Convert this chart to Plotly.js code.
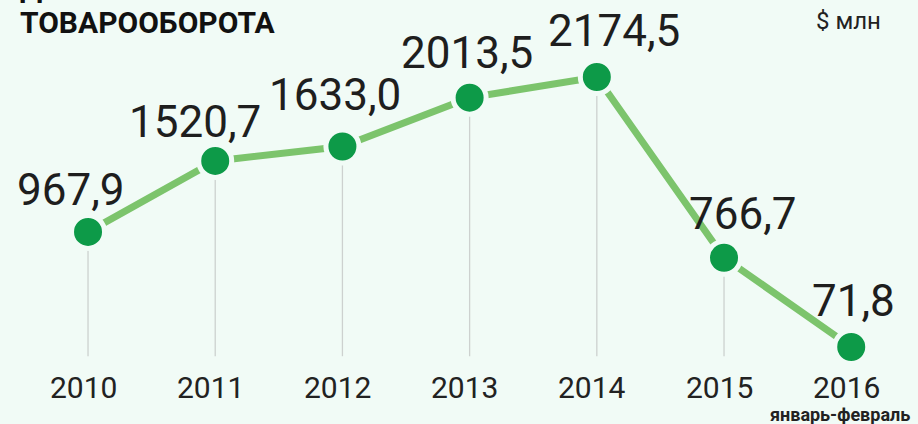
<!DOCTYPE html>
<html>
<head>
<meta charset="utf-8">
<script src="https://cdn.plot.ly/plotly-3.0.1.min.js"></script>
<style>
html,body{margin:0;padding:0;background:#f1fbf6;}
#chart{width:918px;height:424px;}
</style>
</head>
<body>
<div id="chart"></div>
<script>
// ---- data ----
const years = ['2010', '2011', '2012', '2013', '2014', '2015', '2016'];
const values = [967.9, 1520.7, 1633.0, 2013.5, 2174.5, 766.7, 71.8];
const valueLabels = ['967,9', '1520,7', '1633,0', '2013,5', '2174,5', '766,7', '71,8'];
const periodNote = 'январь-февраль';
const unitLabel = '$ млн';
const titleTop = 'ДИНАМИКА';
const titleMain = 'ТОВАРООБОРОТА';

// ---- styling (label nudges in pixels) ----
const labelDx = [-17, -20, -7, -3, 17, 19, 2];
const labelDy = [28, 25, 38, 31, 32, 30, 32];

const BG = '#f1fbf6';
const xIdx = years.map((_, i) => i);

// vertical drop lines from each point down to zero
const dropX = [], dropY = [];
xIdx.forEach((x, i) => { dropX.push(x, x, null); dropY.push(0, values[i], null); });

const traces = [
  {
    x: dropX, y: dropY, mode: 'lines', type: 'scatter',
    line: {color: '#cdd1cf', width: 1.3},
    hoverinfo: 'skip', showlegend: false
  },
  {
    x: xIdx, y: values, mode: 'lines+markers', type: 'scatter',
    line: {color: '#7cc46c', width: 7},
    marker: {color: '#0d9a48', size: 33, line: {color: BG, width: 5}},
    cliponaxis: false, showlegend: false, hoverinfo: 'skip'
  }
];

const annotations = [];
xIdx.forEach((x, i) => {
  annotations.push({
    x: x, y: values[i], xref: 'x', yref: 'y',
    text: valueLabels[i], showarrow: false,
    xanchor: 'center', yanchor: 'bottom',
    xshift: labelDx[i], yshift: labelDy[i] - 14,
    font: {family: 'Roboto', size: 44, color: '#1e1e1e'}
  });
  annotations.push({
    x: x, y: (424 - 387) / 424, xref: 'x', yref: 'paper',
    text: years[i], showarrow: false,
    xanchor: 'center', yanchor: 'middle', xshift: -5,
    font: {family: 'Roboto', size: 30, color: '#222222'}
  });
});
annotations.push({
  x: xIdx[xIdx.length - 1], y: (424 - 414) / 424, xref: 'x', yref: 'paper',
  text: periodNote, showarrow: false, xanchor: 'center', yanchor: 'middle', xshift: -11,
  font: {family: 'Roboto', size: 18, color: '#222222', weight: 'bold'}
});
annotations.push({
  x: 848 / 918, y: (424 - 21) / 424, xref: 'paper', yref: 'paper',
  text: unitLabel, showarrow: false, xanchor: 'center', yanchor: 'middle',
  font: {family: 'Roboto', size: 24, color: '#222222'}
});
annotations.push({
  x: 18 / 918, y: (424 - 33) / 424, xref: 'paper', yref: 'paper',
  text: '<b>' + titleMain + '</b>', showarrow: false, xanchor: 'left', yanchor: 'bottom',
  yshift: -9,
  font: {family: 'Roboto', size: 30, color: '#111111'}
});
annotations.push({
  x: 18 / 918, y: (424 - 2) / 424, xref: 'paper', yref: 'paper',
  text: '<b>' + titleTop + '</b>', showarrow: false, xanchor: 'left', yanchor: 'bottom',
  yshift: -5,
  font: {family: 'Roboto', size: 30, color: '#111111'}
});

const layout = {
  width: 918, height: 424,
  margin: {l: 0, r: 0, t: 0, b: 0},
  paper_bgcolor: BG, plot_bgcolor: BG,
  xaxis: {range: [-0.692, 6.525], visible: false, fixedrange: true},
  yaxis: {range: [-528, 2774], visible: false, fixedrange: true},
  annotations: annotations,
  showlegend: false
};

Plotly.newPlot('chart', traces, layout, {displayModeBar: false, staticPlot: true});
</script>
</body>
</html>
